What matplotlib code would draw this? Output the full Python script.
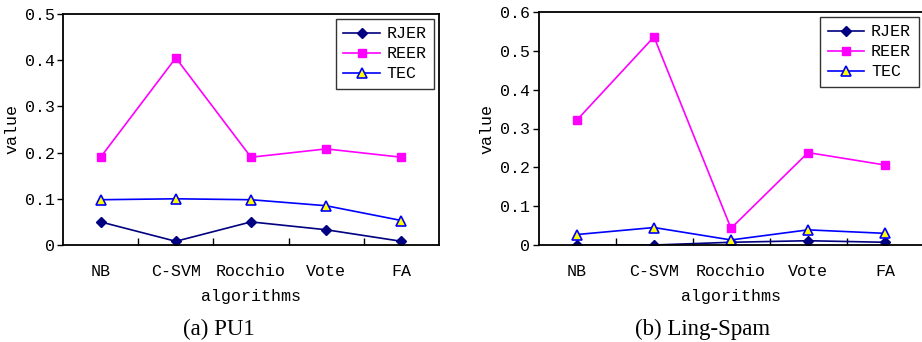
import numpy as np
import matplotlib
matplotlib.use("Agg")
import matplotlib.pyplot as plt

# data ─────────────────────────────────────────────
algorithms = ["NB", "C-SVM", "Rocchio", "Vote", "FA"]

pu1_rjer = [0.050, 0.008, 0.050, 0.033, 0.008]
pu1_reer = [0.190, 0.405, 0.190, 0.208, 0.190]
pu1_tec = [0.098, 0.100, 0.098, 0.085, 0.053]

ling_rjer = [0.000, 0.000, 0.007, 0.011, 0.007]
ling_reer = [0.322, 0.536, 0.043, 0.238, 0.206]
ling_tec = [0.027, 0.045, 0.013, 0.039, 0.030]

MONO = "Liberation Mono"
SERIF = "Liberation Serif"


def draw(ax, rjer, reer, tec, ymax):
    x = np.arange(len(algorithms))
    ax.plot(x, rjer, color="#000080", marker="D", ms=5, lw=1.2, label="RJER")
    ax.plot(x, reer, color="#FF00FF", marker="s", ms=6, lw=1.2, label="REER")
    ax.plot(x, tec, color="#0000FF", marker="^", ms=6.5, mfc="#FFFF00",
            mec="#0000FF", mew=1.2, lw=1.2, label="TEC")

    ax.set_xlim(-0.5, len(algorithms) - 0.5)
    ax.set_ylim(0, ymax)
    ax.set_yticks(np.arange(0, ymax + 0.001, 0.1))
    ax.set_yticklabels(["0"] + [f"{v:.1f}" for v in np.arange(0.1, ymax + 0.001, 0.1)],
                       family=MONO, fontsize=12)

    # category labels without ticks, boundary ticks pointing inward
    ax.set_xticks(x)
    ax.set_xticklabels(algorithms, family=MONO, fontsize=12)
    ax.tick_params(axis="x", length=0, pad=14)
    ax.set_xticks(np.arange(0.5, len(algorithms) - 1, 1.0), minor=True)
    ax.tick_params(axis="x", which="minor", direction="in", length=5, width=1)
    ax.tick_params(axis="y", direction="out", length=4, width=1, pad=2)

    for s in ax.spines.values():
        s.set_linewidth(1.3)

    ax.set_xlabel("algorithms", family=MONO, fontsize=12, labelpad=7)
    ax.set_ylabel("value", family=MONO, fontsize=12, labelpad=4)

    leg = ax.legend(loc="upper right", prop={"family": MONO, "size": 12},
                    frameon=True, fancybox=False, edgecolor="black",
                    handlelength=2.2, borderaxespad=0.3, labelspacing=0.3,
                    handletextpad=0.4, borderpad=0.45)
    leg.get_frame().set_linewidth(1.0)


fig = plt.figure(figsize=(9.22, 3.42), dpi=100)
ax1 = fig.add_axes([63 / 922, 1 - 245 / 342, 376 / 922, 231 / 342])
ax2 = fig.add_axes([538.5 / 922, 1 - 245 / 342, 385 / 922, 233 / 342])

draw(ax1, pu1_rjer, pu1_reer, pu1_tec, 0.5)
draw(ax2, ling_rjer, ling_reer, ling_tec, 0.6)

fig.text(219 / 922, 1 - 329 / 342, "(a) PU1", ha="center", va="center",
         family=SERIF, fontsize=16.5)
fig.text(703 / 922, 1 - 329 / 342, "(b) Ling-Spam", ha="center", va="center",
         family=SERIF, fontsize=16.5)

fig.savefig("out.png", dpi=100)
